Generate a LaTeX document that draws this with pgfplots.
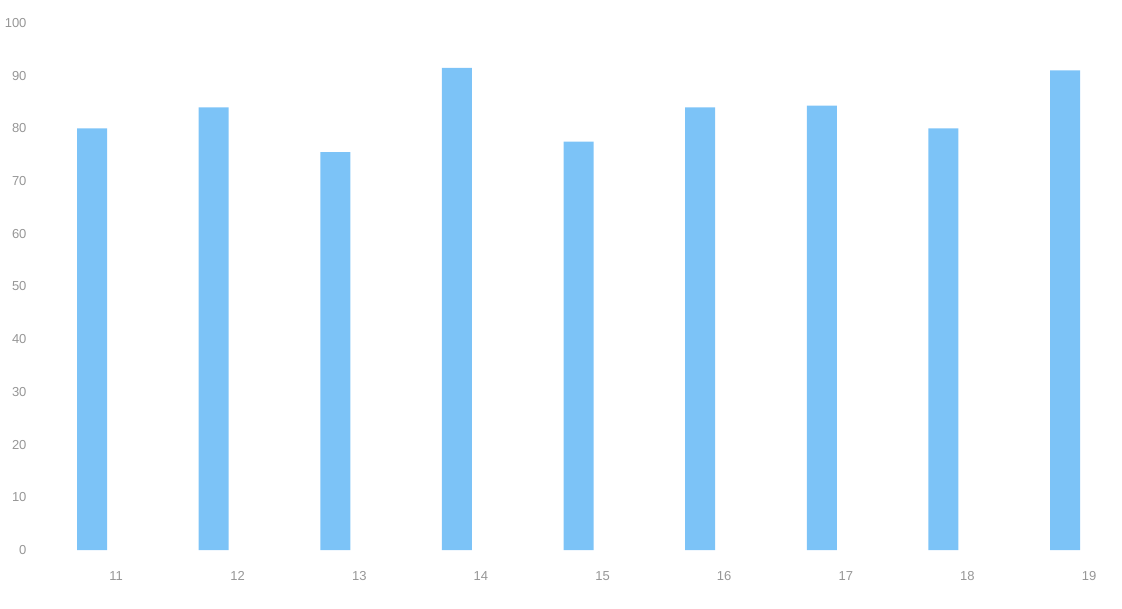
\documentclass[border=0pt]{standalone}
\usepackage{fontspec}
\setmainfont{Liberation Sans}
\usepackage{pgfplots}
\pgfplotsset{compat=1.18}
\definecolor{barblue}{RGB}{124,195,247}
\definecolor{ticktxt}{RGB}{150,150,150}

\begin{document}
\begin{tikzpicture}
\path[use as bounding box] (-30pt,-58pt) rectangle (1092pt,550pt);
\begin{axis}[
  at={(0pt,0pt)}, anchor=south west,
  scale only axis,
  width=1080pt, height=527pt,
  xmin=-0.51, xmax=8.37,
  ymin=0, ymax=100,
  ytick={0,10,...,100},
  xtick=data,
  xticklabels={11,12,13,14,15,16,17,18,19},
  axis line style={draw=none},
  major tick length=0pt,
  tick label style={font=\fontsize{13}{15}\selectfont, text=ticktxt},
  /pgf/number format/assume math mode=true,
  x tick label style={anchor=center, xshift=24pt, yshift=-26pt},
  ybar, bar width=30pt,
]
\addplot[fill=barblue, draw=none] coordinates {
  (0,80) (1,84) (2,75.5) (3,91.5) (4,77.5) (5,84) (6,84.3) (7,80) (8,91)
};
\end{axis}
\end{tikzpicture}
\end{document}
